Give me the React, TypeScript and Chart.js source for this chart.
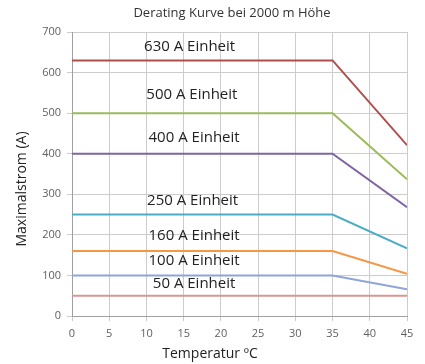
import React, { useEffect, useRef } from "react";
import { Chart, registerables } from "chart.js";

Chart.register(...registerables);

const temps = [0, 35, 45];
const s630 = [630, 630, 421];
const s500 = [500, 500, 337];
const s400 = [400, 400, 268];
const s250 = [250, 250, 167];
const s160 = [160, 160, 104];
const s100 = [100, 100, 66];
const s50 = [50, 50, 50];

const seriesNames = ["630 A", "500 A", "400 A", "250 A", "160 A", "100 A", "50 A"];
const seriesColors = ["#B04E4C", "#9BBB59", "#8064A2", "#4BACC6", "#F79646", "#8EA5D8", "#D99694"];

const labelTexts = ["630 A Einheit", "500 A Einheit", "400 A Einheit", "250 A Einheit", "160 A Einheit", "100 A Einheit", "50 A Einheit"];
const labelX = [15.8, 16.1, 16.4, 16.2, 16.4, 16.4, 16.4];
const labelY = [663, 545, 439, 283, 199, 135, 79];

const xTicks = [0, 5, 10, 15, 20, 25, 30, 35, 40, 45];
const yTicks = [0, 100, 200, 300, 400, 500, 600, 700];

const chartTitle = "Derating Kurve bei 2000 m Höhe";
const xTitle = "Temperatur ºC";
const yTitle = "Maximalstrom (A)";

export default function App() {
  const ref = useRef<HTMLCanvasElement | null>(null);
  useEffect(() => {
    document.body.style.margin = "0";
    const all = [s630, s500, s400, s250, s160, s100, s50];
    const textPlugin = {
      id: "texts",
      afterDatasetsDraw(chart: any) {
        const { ctx, scales, chartArea } = chart;
        ctx.save();
        ctx.fillStyle = "#222";
        ctx.font = "15px 'Open Sans'";
        ctx.textAlign = "center";
        ctx.textBaseline = "middle";
        labelTexts.forEach((t, i) => {
          ctx.fillText(t, scales.x.getPixelForValue(labelX[i]), scales.y.getPixelForValue(labelY[i]));
        });
        ctx.fillStyle = "#333";
        ctx.font = "13px 'Open Sans'";
        ctx.fillText(chartTitle, 232, 13);
        ctx.fillStyle = "#222";
        ctx.font = "14px 'Open Sans'";
        ctx.fillText(xTitle, 210, chartArea.bottom + 38);
        ctx.translate(22, 189);
        ctx.rotate(-Math.PI / 2);
        ctx.fillText(yTitle, 0, 0);
        ctx.restore();
      },
    };
    const chart = new Chart(ref.current as HTMLCanvasElement, {
      type: "line",
      data: {
        datasets: all.map((s, i) => ({
          label: seriesNames[i],
          data: temps.map((t, j) => ({ x: t, y: s[j] })),
          borderColor: seriesColors[i],
          backgroundColor: seriesColors[i],
          borderWidth: 2,
          pointRadius: 0,
          tension: 0,
        })),
      },
      options: {
        animation: false,
        responsive: false,
        layout: { padding: { top: 32, right: 18, left: 0, bottom: 0 } },
        plugins: { legend: { display: false }, title: { display: false }, tooltip: { enabled: false } },
        scales: {
          x: {
            type: "linear",
            min: 0,
            max: 45,
            afterBuildTicks: (s: any) => { s.ticks = xTicks.map((v) => ({ value: v })); },
            afterFit: (s: any) => { s.height = 48; },
            grid: { color: "#CCCCCC", tickLength: 5, lineWidth: 1 },
            border: { color: "#A0A0A0" },
            ticks: { color: "#606060", font: { family: "Open Sans", size: 11 }, padding: 6, maxRotation: 0 },
          },
          y: {
            min: 0,
            max: 700,
            afterBuildTicks: (s: any) => { s.ticks = yTicks.map((v) => ({ value: v })); },
            afterFit: (s: any) => { s.width = 72; },
            grid: { color: "#CCCCCC", tickLength: 5, lineWidth: 1 },
            border: { color: "#A0A0A0" },
            ticks: { color: "#606060", font: { family: "Open Sans", size: 11 }, padding: 6 },
          },
        },
      },
      plugins: [textPlugin],
    } as any);
    return () => chart.destroy();
  }, []);
  return (
    <div style={{ width: 425, height: 364, background: "#fff" }}>
      <canvas ref={ref} width={425} height={364} style={{ width: 425, height: 364 }} />
    </div>
  );
}
